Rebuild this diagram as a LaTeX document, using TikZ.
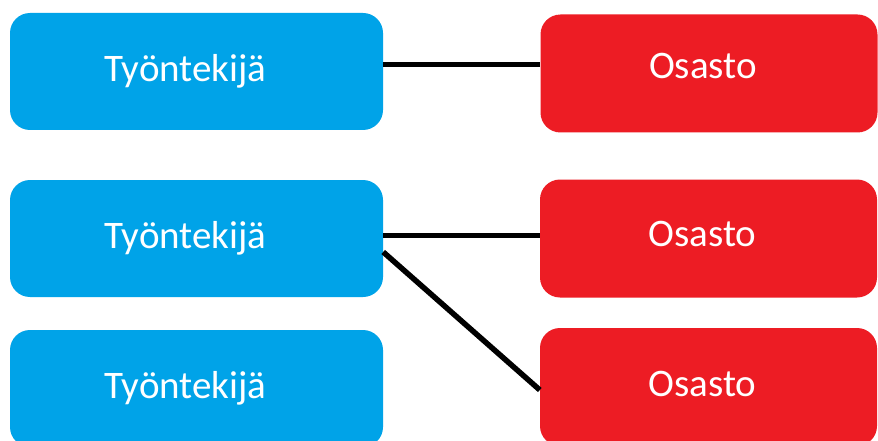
\documentclass[tikz,border=0pt]{standalone}
\usepackage{fontspec}
\setmainfont{Carlito}
\definecolor{boxblue}{RGB}{0,163,232}
\definecolor{boxred}{RGB}{237,28,36}
\begin{document}
\begin{tikzpicture}[x=1pt,y=-1pt,
  base/.style={rectangle,rounded corners=20pt,inner sep=0pt,text=white,font=\fontsize{39}{44}\selectfont},
  emp/.style={base,fill=boxblue,minimum width=373pt,minimum height=117pt},
  dep/.style={base,fill=boxred,minimum width=337pt,minimum height=118pt},
  link/.style={line width=5.5pt,black}]
\useasboundingbox[fill=white] (0,0) rectangle (878,441);
\begin{scope}
\clip (0,0) rectangle (878,441);
\node[emp] (b1) at (196.5,71.5) {Työntekijä\hspace*{22pt}};
\node[emp] (b2) at (196.5,238.5) {Työntekijä\hspace*{22pt}};
\node[emp] (b3) at (196.5,388.5) {Työntekijä\hspace*{22pt}};
\node[dep,text depth=16pt] (r1) at (709,73.5) {Osasto\hspace*{12pt}};
\node[dep,text depth=9pt] (r2) at (708.5,238.5) {Osasto\hspace*{12pt}};
\node[dep,text depth=6pt] (r3) at (708.5,387) {Osasto\hspace*{12pt}};
\draw[link] ([yshift=7pt]b1.east) -- ([yshift=9pt]r1.west);
\draw[link] ([yshift=3pt]b2.east) -- ([yshift=3pt]r2.west);
\draw[link] ([yshift=-13.5pt]b2.east) -- ([yshift=-3pt]r3.west);
\end{scope}
\end{tikzpicture}
\end{document}
